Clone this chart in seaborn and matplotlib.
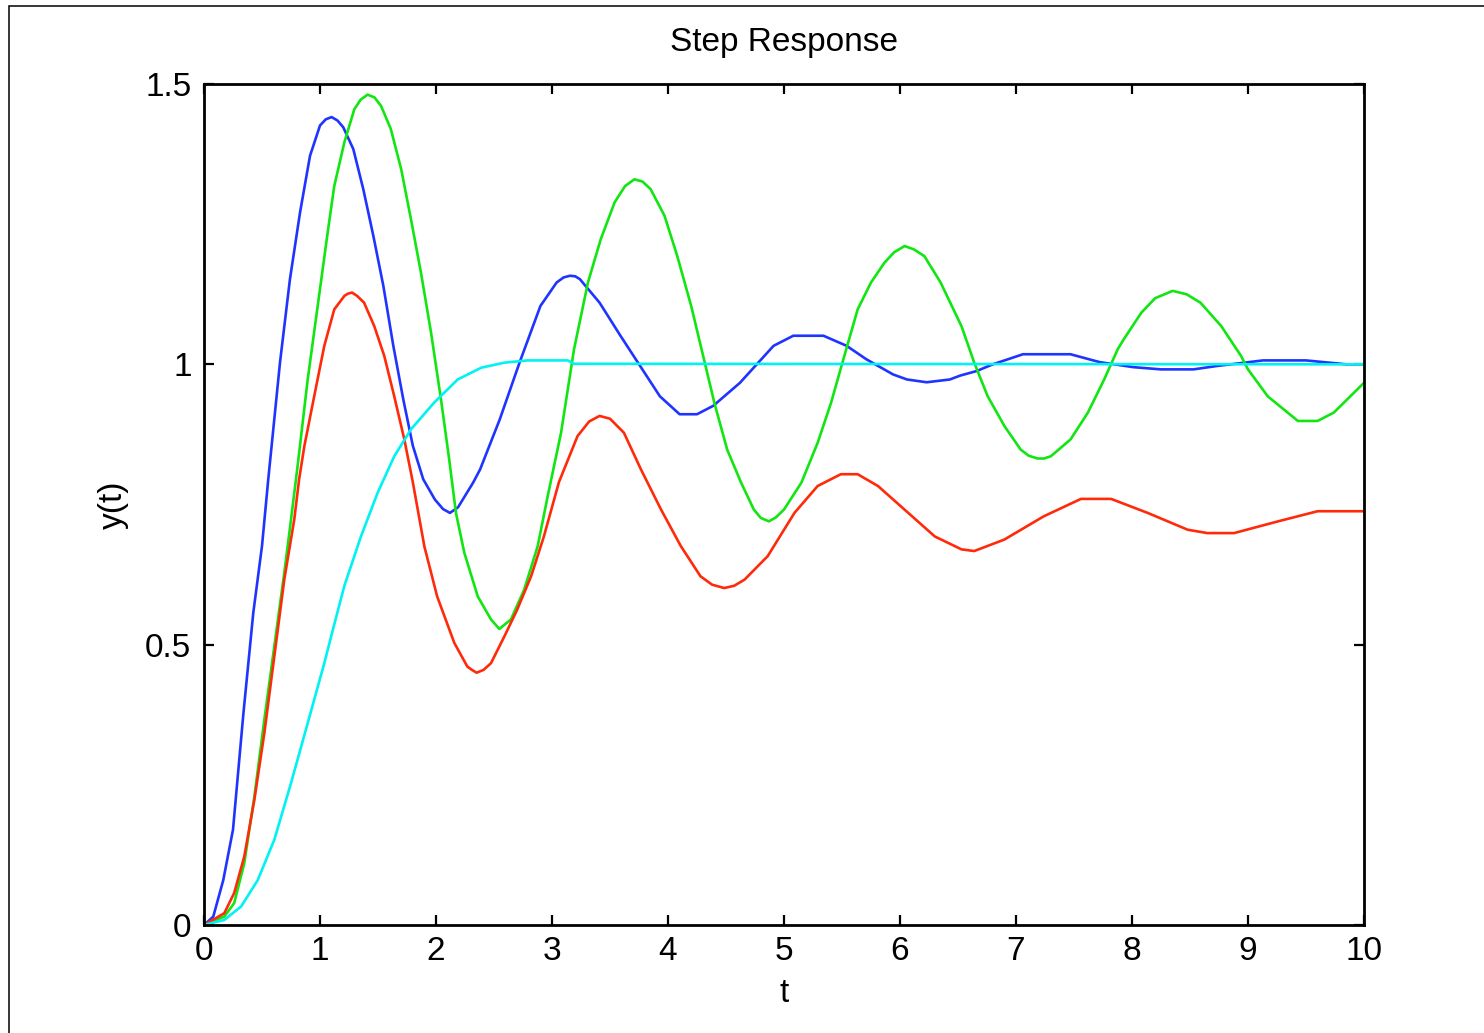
import numpy as np
import pandas as pd
import matplotlib
matplotlib.use("Agg")
import matplotlib.pyplot as plt
import seaborn as sns
from matplotlib.patches import Rectangle

# ---- data ----
t_blue = [0, 0.08, 0.166, 0.25, 0.34, 0.425, 0.50, 0.554, 0.655, 0.741, 0.828, 0.914,
          1.0, 1.05, 1.10, 1.15, 1.20, 1.287, 1.373, 1.46, 1.546, 1.632, 1.718, 1.80, 1.89, 1.99,
          2.06, 2.12, 2.19, 2.32, 2.38, 2.55, 2.72, 2.90, 3.04, 3.10, 3.155, 3.20, 3.24, 3.41, 3.59, 3.76,
          3.93, 4.10, 4.25, 4.39, 4.62, 4.91, 5.08, 5.34, 5.54, 5.71, 5.94, 6.06,
          6.23, 6.43, 6.52, 6.66, 6.80, 7.06, 7.47, 7.72, 8.01, 8.25, 8.53, 8.73,
          9.13, 9.50, 9.85, 10.0]
y_blue = [0, 0.015, 0.080, 0.170, 0.378, 0.557, 0.676, 0.795, 1.003, 1.152, 1.271, 1.372,
          1.426, 1.437, 1.441, 1.435, 1.423, 1.384, 1.3125, 1.229, 1.140, 1.033, 0.9375, 0.855, 0.795, 0.759,
          0.742, 0.735, 0.745, 0.789, 0.8125, 0.902, 1.003, 1.104, 1.146, 1.155, 1.158, 1.157, 1.152, 1.110, 1.051, 0.997,
          0.943, 0.911, 0.911, 0.926, 0.967, 1.033, 1.051, 1.051, 1.033, 1.009, 0.982, 0.973,
          0.968, 0.973, 0.980, 0.988, 1.0, 1.018, 1.018, 1.004, 0.995, 0.991, 0.991, 0.997,
          1.007, 1.007, 1.0, 1.0]

t_green = [0, 0.175, 0.26, 0.347, 0.434, 0.52, 0.606, 0.692, 0.75, 0.81, 0.894, 0.98,
           1.066, 1.123, 1.21, 1.296, 1.35, 1.41, 1.47, 1.526, 1.61, 1.70, 1.784, 1.87, 1.957, 2.043,
           2.114, 2.172, 2.244, 2.36, 2.474, 2.546, 2.646, 2.76, 2.877, 2.963, 3.078, 3.19,
           3.31, 3.42, 3.54, 3.63, 3.71, 3.78, 3.85, 3.97, 4.08, 4.20, 4.31, 4.40, 4.51, 4.63,
           4.74, 4.80, 4.87, 4.93, 5.00, 5.15, 5.29, 5.405, 5.52, 5.635, 5.75, 5.865, 5.95, 6.04, 6.12, 6.21,
           6.35, 6.53, 6.64, 6.756, 6.90, 7.04, 7.11, 7.187, 7.24, 7.30, 7.47, 7.62, 7.76, 7.877,
           7.93, 8.08, 8.20, 8.35, 8.47, 8.59, 8.77, 8.94, 9.0, 9.17, 9.43, 9.60, 9.74, 10.0]
y_green = [0, 0.015, 0.039, 0.110, 0.229, 0.366, 0.497, 0.628, 0.723, 0.824, 0.973, 1.104,
           1.235, 1.318, 1.396, 1.455, 1.472, 1.481, 1.476, 1.461, 1.420, 1.348, 1.259, 1.164, 1.057, 0.9375,
           0.830, 0.735, 0.664, 0.586, 0.545, 0.528, 0.545, 0.598, 0.676, 0.765, 0.878, 1.027,
           1.146, 1.223, 1.289, 1.318, 1.330, 1.326, 1.3125, 1.265, 1.193, 1.104, 1.009, 0.931, 0.848, 0.789,
           0.741, 0.726, 0.720, 0.727, 0.741, 0.789, 0.860, 0.931, 1.015, 1.098, 1.146, 1.181, 1.200, 1.211, 1.205, 1.193,
           1.146, 1.068, 1.003, 0.943, 0.890, 0.848, 0.837, 0.832, 0.832, 0.836, 0.866, 0.914, 0.973, 1.027,
           1.045, 1.092, 1.118, 1.131, 1.125, 1.110, 1.068, 1.015, 0.991, 0.943, 0.899, 0.899, 0.914, 0.967]

t_red = [0, 0.175, 0.26, 0.347, 0.434, 0.52, 0.606, 0.692, 0.778, 0.82, 0.865, 0.95,
         1.037, 1.123, 1.21, 1.24, 1.276, 1.32, 1.38, 1.468, 1.554, 1.64, 1.727, 1.80, 1.90, 2.01,
         2.158, 2.27, 2.31, 2.35, 2.41, 2.474, 2.59, 2.70, 2.82, 2.93, 3.06, 3.22, 3.32, 3.41, 3.50, 3.62,
         3.767, 3.94, 4.11, 4.28, 4.38, 4.485, 4.57, 4.66, 4.86, 5.09, 5.29, 5.49, 5.635, 5.81,
         6.30, 6.53, 6.64, 6.90, 7.24, 7.56, 7.82, 8.135, 8.48, 8.65, 8.88, 9.26,
         9.60, 10.0]
y_red = [0, 0.021, 0.057, 0.122, 0.223, 0.342, 0.479, 0.616, 0.723, 0.795, 0.854, 0.943,
         1.033, 1.098, 1.122, 1.126, 1.128, 1.122, 1.110, 1.068, 1.015, 0.943, 0.866, 0.790, 0.675, 0.586,
         0.503, 0.461, 0.455, 0.450, 0.455, 0.467, 0.515, 0.5625, 0.622, 0.693, 0.790, 0.872, 0.898, 0.908, 0.903, 0.878,
         0.8125, 0.741, 0.676, 0.622, 0.607, 0.601, 0.605, 0.616, 0.658, 0.735, 0.783, 0.804, 0.804, 0.783,
         0.693, 0.670, 0.667, 0.6875, 0.729, 0.760, 0.760, 0.735, 0.705, 0.699, 0.699, 0.720,
         0.738, 0.738]

t_cyan = [0, 0.175, 0.32, 0.463, 0.606, 0.75, 0.894, 1.037, 1.109, 1.21, 1.353, 1.497,
          1.64, 1.784, 1.985, 2.187, 2.39, 2.59, 2.79, 3.135, 3.19, 10.0]
y_cyan = [0, 0.009, 0.033, 0.080, 0.152, 0.253, 0.360, 0.467, 0.525, 0.605, 0.693, 0.771,
          0.836, 0.884, 0.932, 0.973, 0.994, 1.003, 1.007, 1.007, 1.001, 1.0]

x_ticks = [0, 1, 2, 3, 4, 5, 6, 7, 8, 9, 10]
y_ticks = [0, 0.5, 1, 1.5]
y_tick_labels = ["0", "0.5", "1", "1.5"]

# ---- styling ----
sns.set_theme(style="white")
plt.rcParams["font.family"] = ["Liberation Sans", "DejaVu Sans"]

W, H = 1484, 1033
fig = plt.figure(figsize=(W / 100, H / 100), dpi=100)
ax = fig.add_axes([204 / W, 1 - 925 / H, (1364 - 204) / W, (925 - 84) / H])

series = [
    (t_blue, y_blue, "#1f35ff"),
    (t_green, y_green, "#12e612"),
    (t_red, y_red, "#ff2a0a"),
    (t_cyan, y_cyan, "#00f2f2"),
]
for tt, yy, col in series:
    df = pd.DataFrame({"t": tt, "y": yy})
    sns.lineplot(data=df, x="t", y="y", color=col, linewidth=1.9, ax=ax,
                 sort=False, estimator=None)

ax.set_xlim(0, 10)
ax.set_ylim(0, 1.5)
ax.set_xticks(x_ticks)
ax.set_xticklabels([str(v) for v in x_ticks])
ax.set_yticks(y_ticks)
ax.set_yticklabels(y_tick_labels)

for s in ax.spines.values():
    s.set_visible(True)
    s.set_color("black")
    s.set_linewidth(2.0)

ax.tick_params(axis="both", which="major", direction="in", length=7, width=1.6,
               colors="black", labelsize=24, top=True, right=True,
               bottom=True, left=True)
ax.tick_params(axis="x", pad=8)
ax.tick_params(axis="y", pad=9)

ax.set_title("Step Response", fontsize=24, pad=24, color="black")
ax.set_xlabel("t", fontsize=24, labelpad=8, color="black")
ax.set_ylabel("y(t)", fontsize=24, labelpad=12, color="black")
ax.grid(False)
ax.set_facecolor("white")
fig.patch.set_facecolor("white")

# outer figure frame (left and top edges visible)
fig.patches.append(Rectangle((9 / W, -0.2), 1.5, 1.2 - 6 / H, transform=fig.transFigure,
                             fill=False, edgecolor="black", linewidth=1.1, zorder=10))

fig.savefig("out.png", dpi=100)
